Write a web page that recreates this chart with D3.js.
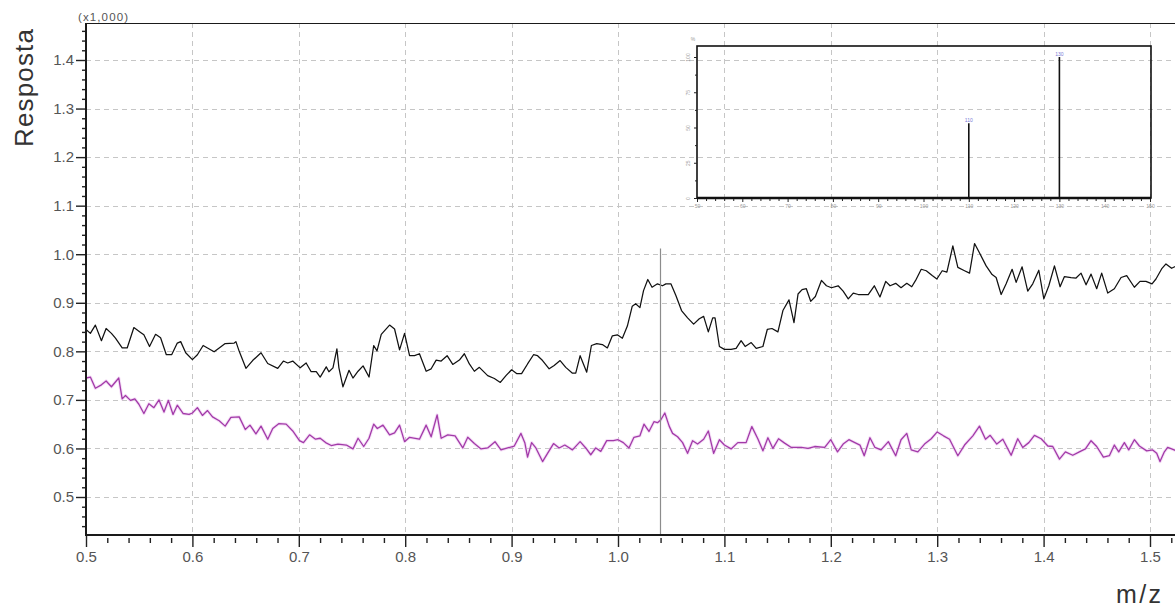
<!DOCTYPE html>
<html>
<head>
<meta charset="utf-8">
<script src="https://cdn.jsdelivr.net/npm/d3@7"></script>
<style>
  html, body { margin: 0; padding: 0; background: #fff; }
  svg { display: block; }
  text { font-family: "Liberation Sans", Arial, sans-serif; }
</style>
</head>
<body>
<svg id="chart" width="1175" height="610"></svg>
<script>
// ---- axis ticks ----
const xTicks = [0.5, 0.6, 0.7, 0.8, 0.9, 1.0, 1.1, 1.2, 1.3, 1.4, 1.5];
const yTicks = [0.5, 0.6, 0.7, 0.8, 0.9, 1.0, 1.1, 1.2, 1.3, 1.4];
const yScaleNote = "(x1,000)";
const xTitle = "m/z";
const yTitle = "Resposta";

// ---- black trace (response in thousands) ----
const ticMz = [0.5000,0.5041,0.5088,0.5145,0.5189,0.5239,0.5277,0.5340,0.5387,0.5450,0.5513,0.5544,0.5597,0.5654,0.5701,0.5755,0.5805,0.5858,0.5890,0.5937,
  0.6000,0.6047,0.6101,0.6142,0.6204,0.6252,0.6308,0.6393,0.6409,0.6440,0.6503,0.6566,0.6645,0.6708,0.6802,0.6855,0.6896,0.6943,
  0.7013,0.7069,0.7116,0.7164,0.7201,0.7258,0.7283,0.7321,0.7358,0.7377,0.7415,0.7447,0.7472,0.7509,0.7557,0.7604,0.7660,0.7704,0.7735,0.7775,0.7853,0.7900,0.7947,0.7994,
  0.8041,0.8088,0.8134,0.8197,0.8244,0.8291,0.8338,0.8394,0.8447,0.8509,0.8556,0.8603,0.8650,0.8697,0.8775,0.8838,0.8894,0.8947,
  0.9000,0.9050,0.9094,0.9150,0.9206,0.9244,0.9291,0.9353,0.9400,0.9456,0.9509,0.9572,0.9603,0.9644,0.9675,0.9706,0.9750,0.9800,0.9853,0.9900,0.9947,0.9994,
  1.0041,1.0088,1.0134,1.0166,1.0206,1.0240,1.0280,1.0320,1.0371,1.0418,1.0450,1.0497,1.0544,1.0597,1.0654,1.0711,1.0764,1.0805,1.0849,1.0890,1.0912,1.0953,
  1.1000,1.1063,1.1110,1.1157,1.1195,1.1252,1.1299,1.1362,1.1403,1.1447,1.1503,1.1550,1.1607,1.1654,1.1692,1.1730,1.1770,1.1811,1.1855,1.1912,1.1959,
  1.2006,1.2069,1.2116,1.2164,1.2211,1.2258,1.2352,1.2409,1.2462,1.2516,1.2557,1.2610,1.2660,1.2714,1.2761,1.2797,1.2850,1.2897,1.2953,1.2997,
  1.3047,1.3091,1.3147,1.3194,1.3257,1.3304,1.3351,1.3397,1.3460,1.3516,1.3554,1.3601,1.3648,1.3704,1.3742,1.3798,1.3851,1.3898,1.3955,
  1.4002,1.4049,1.4102,1.4155,1.4196,1.4258,1.4305,1.4352,1.4399,1.4446,1.4499,1.4546,1.4603,1.4665,1.4728,1.4781,1.4853,1.4906,1.4962,
  1.5019,1.5056,1.5113,1.5150,1.5203,1.5240];
const ticResp = [0.845,0.837,0.854,0.822,0.847,0.837,0.827,0.807,0.807,0.849,0.839,0.834,0.810,0.835,0.828,0.793,0.793,0.817,0.820,0.797,
  0.783,0.793,0.812,0.807,0.799,0.807,0.816,0.817,0.820,0.800,0.765,0.781,0.797,0.775,0.765,0.780,0.776,0.780,
  0.766,0.776,0.758,0.758,0.747,0.768,0.758,0.766,0.805,0.766,0.727,0.746,0.761,0.745,0.759,0.770,0.747,0.812,0.801,0.835,0.854,0.846,0.803,0.837,
  0.791,0.791,0.795,0.759,0.764,0.782,0.780,0.791,0.773,0.782,0.795,0.774,0.759,0.767,0.750,0.744,0.736,0.750,
  0.762,0.754,0.754,0.774,0.793,0.791,0.781,0.764,0.771,0.781,0.767,0.755,0.755,0.791,0.774,0.757,0.812,0.816,0.814,0.807,0.832,0.834,
  0.827,0.852,0.893,0.898,0.890,0.925,0.948,0.932,0.939,0.935,0.939,0.939,0.915,0.884,0.869,0.856,0.867,0.872,0.840,0.869,0.869,0.810,
  0.804,0.804,0.806,0.822,0.810,0.818,0.806,0.810,0.845,0.847,0.840,0.884,0.906,0.859,0.918,0.927,0.929,0.903,0.913,0.946,0.935,
  0.931,0.935,0.924,0.908,0.920,0.917,0.917,0.935,0.912,0.944,0.935,0.940,0.931,0.940,0.933,0.946,0.969,0.966,0.956,0.949,
  0.966,0.963,1.017,0.973,0.966,0.961,1.022,1.003,0.976,0.958,0.952,0.917,0.939,0.969,0.942,0.974,0.924,0.939,0.967,
  0.908,0.935,0.976,0.933,0.954,0.952,0.951,0.961,0.937,0.959,0.929,0.961,0.920,0.929,0.952,0.956,0.932,0.944,0.944,
  0.939,0.949,0.971,0.980,0.971,0.975];

// ---- magenta trace (response in thousands) ----
const ionMz = [0.5000,0.5041,0.5088,0.5145,0.5189,0.5239,0.5292,0.5308,0.5340,0.5371,0.5418,0.5459,0.5497,0.5544,0.5591,0.5638,0.5686,0.5733,0.5774,0.5818,0.5858,0.5912,0.5969,
  0.6000,0.6047,0.6094,0.6142,0.6189,0.6252,0.6308,0.6362,0.6440,0.6497,0.6541,0.6597,0.6645,0.6708,0.6755,0.6811,0.6881,0.6943,
  0.7006,0.7044,0.7101,0.7157,0.7201,0.7252,0.7305,0.7368,0.7447,0.7509,0.7557,0.7610,0.7660,0.7704,0.7738,0.7791,0.7853,0.7900,0.7947,0.7994,
  0.8041,0.8134,0.8197,0.8244,0.8300,0.8338,0.8400,0.8469,0.8541,0.8588,0.8650,0.8713,0.8775,0.8844,0.8900,0.8963,
  0.9025,0.9088,0.9125,0.9150,0.9188,0.9228,0.9291,0.9338,0.9394,0.9447,0.9500,0.9572,0.9644,0.9697,0.9744,0.9791,0.9838,0.9894,0.9956,
  1.0000,1.0050,1.0103,1.0150,1.0206,1.0244,1.0291,1.0338,1.0371,1.0403,1.0440,1.0481,1.0513,1.0560,1.0607,1.0654,1.0701,1.0748,1.0805,1.0849,1.0899,1.0953,
  1.1000,1.1063,1.1126,1.1204,1.1258,1.1314,1.1362,1.1409,1.1456,1.1509,1.1566,1.1629,1.1723,1.1786,1.1849,1.1943,
  1.2000,1.2063,1.2116,1.2170,1.2226,1.2274,1.2314,1.2368,1.2415,1.2472,1.2541,1.2610,1.2660,1.2714,1.2756,1.2818,1.2881,1.2944,
  1.3000,1.3059,1.3116,1.3194,1.3257,1.3335,1.3397,1.3454,1.3498,1.3560,1.3617,1.3695,1.3757,1.3804,1.3861,1.3914,1.3977,
  1.4040,1.4086,1.4149,1.4205,1.4274,1.4336,1.4393,1.4446,1.4499,1.4562,1.4618,1.4665,1.4706,1.4759,1.4800,1.4853,1.4900,1.4969,
  1.5025,1.5063,1.5094,1.5135,1.5166,1.5203,1.5240];
const ionResp = [0.745,0.747,0.724,0.731,0.739,0.727,0.741,0.745,0.702,0.709,0.699,0.702,0.691,0.672,0.692,0.684,0.700,0.675,0.699,0.670,0.689,0.672,0.670,
  0.673,0.684,0.668,0.678,0.665,0.657,0.646,0.664,0.665,0.639,0.648,0.630,0.646,0.619,0.641,0.651,0.650,0.636,
  0.616,0.612,0.628,0.619,0.621,0.612,0.606,0.609,0.607,0.599,0.621,0.604,0.621,0.650,0.641,0.648,0.628,0.632,0.648,0.614,
  0.623,0.619,0.648,0.624,0.669,0.621,0.628,0.626,0.601,0.623,0.610,0.599,0.601,0.614,0.597,0.601,
  0.605,0.631,0.611,0.582,0.612,0.601,0.573,0.590,0.610,0.601,0.607,0.597,0.614,0.601,0.587,0.601,0.594,0.616,0.616,
  0.618,0.612,0.601,0.623,0.626,0.650,0.635,0.655,0.653,0.659,0.673,0.646,0.631,0.624,0.612,0.590,0.616,0.609,0.619,0.636,0.590,0.618,
  0.607,0.599,0.612,0.612,0.645,0.620,0.595,0.622,0.600,0.620,0.611,0.602,0.602,0.600,0.604,0.602,
  0.618,0.593,0.609,0.618,0.612,0.607,0.585,0.622,0.602,0.597,0.614,0.585,0.618,0.631,0.597,0.593,0.609,0.620,
  0.634,0.626,0.619,0.585,0.607,0.626,0.646,0.619,0.627,0.609,0.619,0.586,0.620,0.602,0.612,0.627,0.620,
  0.605,0.604,0.578,0.593,0.586,0.593,0.599,0.616,0.604,0.582,0.585,0.607,0.593,0.612,0.597,0.618,0.605,0.595,
  0.597,0.590,0.573,0.593,0.602,0.599,0.596];

// cursor marker
const cursorMz = 1.0396;
const cursorTop = 1.012;

// ---- spectrum inset ----
const insetTicks = [50, 60, 70, 80, 90, 100, 110, 120, 130, 140, 150];
const insetPctTicks = [0, 25, 50, 75, 100];
const peakMz = [110, 130];
const peakPct = [53, 100];

// ---- layout ----
const plotL = 86, plotR = 1175, plotT = 23, plotB = 535;
const svg = d3.select("#chart");

const x = d3.scaleLinear().domain([0.5, 1.5]).range([86, 1150]);
const y = d3.scaleLinear().domain([0.5, 1.4]).range([497, 60]);

// dashed grid
const grid = svg.append("g")
  .attr("stroke", "#c6c6c6").attr("stroke-width", 1).attr("stroke-dasharray", "5,4");
grid.selectAll("line.h").data(yTicks).join("line")
  .attr("class", "h")
  .attr("x1", plotL).attr("x2", plotR)
  .attr("y1", d => Math.round(y(d)) + 0.5).attr("y2", d => Math.round(y(d)) + 0.5);
grid.selectAll("line.v").data(xTicks.filter(d => d > 0.5)).join("line")
  .attr("class", "v")
  .attr("y1", plotT).attr("y2", plotB)
  .attr("x1", d => Math.round(x(d)) + 0.5).attr("x2", d => Math.round(x(d)) + 0.5);

// inset spectrum
const xi = d3.scaleLinear().domain([50, 150]).range([697, 1150]);
const yi = d3.scaleLinear().domain([0, 100]).range([198, 57]);
const inset = svg.append("g");
inset.append("rect")
  .attr("x", 697).attr("y", 46).attr("width", 454).attr("height", 152)
  .attr("fill", "none").attr("stroke", "#111").attr("stroke-width", 1.6);
inset.append("line")
  .attr("x1", 697).attr("x2", 1151).attr("y1", yi(0)).attr("y2", yi(0))
  .attr("stroke", "#111").attr("stroke-width", 2.6);
const ixAxis = inset.append("g").attr("transform", `translate(0,${yi(0) + 1})`)
  .call(d3.axisBottom(xi).tickValues(insetTicks).tickSize(3).tickPadding(2).tickFormat(d3.format("d")));
ixAxis.select(".domain").remove();
const ixMinor = inset.append("g").attr("transform", `translate(0,${yi(0) + 1})`)
  .call(d3.axisBottom(xi).tickValues(d3.range(52, 150, 2).filter(v => v % 10 !== 0)).tickSize(2).tickFormat(""));
ixMinor.select(".domain").remove();
const iyAxis = inset.append("g").attr("transform", "translate(697,0)")
  .call(d3.axisLeft(yi).tickValues(insetPctTicks).tickSize(3).tickPadding(2).tickFormat(d3.format("d")));
iyAxis.select(".domain").remove();
const iyMinor = inset.append("g").attr("transform", "translate(697,0)")
  .call(d3.axisLeft(yi).tickValues([12.5, 37.5, 62.5, 87.5]).tickSize(2).tickFormat(""));
iyMinor.select(".domain").remove();
inset.selectAll(".tick line").attr("stroke", "#222").attr("stroke-width", 1);
ixAxis.selectAll("text").attr("fill", "#9a9a9a").style("font-size", "5px");
iyAxis.selectAll("text")
  .attr("fill", "#9a9a9a").style("font-size", "5px")
  .attr("text-anchor", "middle").attr("x", -7).attr("dy", 0)
  .attr("transform", "rotate(-90,-7,0)");
inset.append("text").attr("x", 693).attr("y", 41)
  .attr("fill", "#9a9a9a").style("font-size", "5px").attr("text-anchor", "middle").text("%");
inset.selectAll("line.peak").data(d3.zip(peakMz, peakPct)).join("line")
  .attr("class", "peak")
  .attr("x1", d => xi(d[0])).attr("x2", d => xi(d[0]))
  .attr("y1", yi(0)).attr("y2", d => yi(d[1]))
  .attr("stroke", "#111").attr("stroke-width", 1.6);
inset.selectAll("text.peak").data(d3.zip(peakMz, peakPct)).join("text")
  .attr("class", "peak")
  .attr("x", d => xi(d[0])).attr("y", d => yi(d[1]) - 1.5)
  .attr("text-anchor", "middle").attr("fill", "#7b7bd6").style("font-size", "5px")
  .text(d => d[0]);

// traces
svg.append("clipPath").attr("id", "plotArea").append("rect")
  .attr("x", plotL).attr("y", plotT).attr("width", plotR - plotL).attr("height", plotB - plotT);
const traces = svg.append("g").attr("clip-path", "url(#plotArea)");
const line = d3.line().x(d => x(d[0])).y(d => y(d[1]));
const ionData = d3.zip(ionMz, ionResp);
const ticData = d3.zip(ticMz, ticResp);
traces.append("path").datum(ionData).attr("d", line)
  .attr("fill", "none").attr("stroke", "#e9b8ee").attr("stroke-width", 3.2).attr("stroke-opacity", 0.45)
  .attr("stroke-linejoin", "round");
traces.append("path").datum(ionData).attr("d", line)
  .attr("fill", "none").attr("stroke", "#a23aa8").attr("stroke-width", 1.3).attr("stroke-linejoin", "round");
traces.append("path").datum(ticData).attr("d", line)
  .attr("fill", "none").attr("stroke", "#111").attr("stroke-width", 1.25).attr("stroke-linejoin", "round");

// cursor line
svg.append("line")
  .attr("x1", Math.round(x(cursorMz)) + 0.5).attr("x2", Math.round(x(cursorMz)) + 0.5)
  .attr("y1", y(cursorTop)).attr("y2", plotB)
  .attr("stroke", "#8c8c8c").attr("stroke-width", 1.2);

// y axis
const yAxis = svg.append("g").attr("transform", `translate(${plotL},0)`)
  .call(d3.axisLeft(y).tickValues(yTicks).tickSize(10).tickPadding(2).tickFormat(d3.format(".1f")));
yAxis.select(".domain").remove();
const yMinor = svg.append("g").attr("transform", `translate(${plotL},0)`)
  .call(d3.axisLeft(y).tickValues(d3.range(0.44, 1.47, 0.02).filter(v => Math.abs(v * 10 - Math.round(v * 10)) > 0.05)).tickSize(4).tickFormat(""));
yMinor.select(".domain").remove();

// x axis
const xAxis = svg.append("g").attr("transform", `translate(0,${plotB})`)
  .call(d3.axisBottom(x).tickValues(xTicks).tickSize(12).tickPadding(4).tickFormat(d3.format(".1f")));
xAxis.select(".domain").remove();
const xMinor = svg.append("g").attr("transform", `translate(0,${plotB + 3})`)
  .call(d3.axisBottom(x).tickValues(d3.range(0.52, 1.53, 0.02).filter(v => Math.abs(v * 10 - Math.round(v * 10)) > 0.05)).tickSize(5).tickFormat(""));
xMinor.select(".domain").remove();

[yAxis, yMinor, xAxis, xMinor].forEach(g => g.selectAll(".tick line").attr("stroke", "#222").attr("stroke-width", 1.4));
[yAxis, xAxis].forEach(g => g.selectAll("text").attr("fill", "#555").style("font-size", "15px"));

// frame
svg.append("line").attr("x1", plotL).attr("x2", plotL).attr("y1", plotT).attr("y2", plotB + 1)
  .attr("stroke", "#1a1a1a").attr("stroke-width", 2);
svg.append("line").attr("x1", plotL - 1).attr("x2", plotR).attr("y1", plotB).attr("y2", plotB)
  .attr("stroke", "#1a1a1a").attr("stroke-width", 2);
svg.append("line").attr("x1", plotL).attr("x2", plotR).attr("y1", plotT + 0.5).attr("y2", plotT + 0.5)
  .attr("stroke", "#1a1a1a").attr("stroke-width", 1.2);

// titles
svg.append("text").attr("x", 78).attr("y", 21)
  .attr("fill", "#555").style("font-size", "11.5px").attr("textLength", 50).text(yScaleNote);
svg.append("text").attr("transform", "translate(33,88) rotate(-90)")
  .attr("text-anchor", "middle").attr("fill", "#333").style("font-size", "26px")
  .attr("textLength", 118).text(yTitle);
svg.append("text").attr("x", 1116).attr("y", 603)
  .attr("fill", "#333").style("font-size", "25px").attr("textLength", 45).text(xTitle);
</script>
</body>
</html>
